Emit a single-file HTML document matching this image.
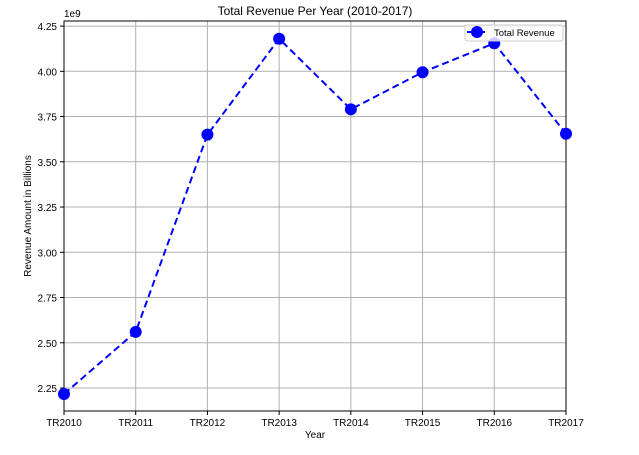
<!DOCTYPE html>
<html><head><meta charset="utf-8"><style>
body{margin:0;background:#fff;font-family:"Liberation Sans","DejaVu Sans",sans-serif;}
svg text{font-family:"Liberation Sans","DejaVu Sans",sans-serif;}
</style></head><body>
<svg id="chart" width="639" height="450"></svg>
<script>
const categories=["TR2010","TR2011","TR2012","TR2013","TR2014","TR2015","TR2016","TR2017"];
const revenue=[2.217,2.56,3.65,4.18,3.79,3.995,4.155,3.655];
const yTicks=[2.25,2.50,2.75,3.00,3.25,3.50,3.75,4.00,4.25];
const L=64,R=566,T=21,B=411,yMin=2.123,yMax=4.278;
const x=i=>L+(R-L)*i/(categories.length-1);
const y=v=>B-(v-yMin)/(yMax-yMin)*(B-T);
const svg=document.getElementById('chart');
const NS='http://www.w3.org/2000/svg';
function mk(tag,attrs,parent){const e=document.createElementNS(NS,tag);for(const k in attrs)e.setAttribute(k,attrs[k]);(parent||svg).appendChild(e);return e;}
const grid=mk('g',{});


yTicks.forEach(v=>{
  const l=mk('line',{x1:L,x2:R,y1:y(v),y2:y(v),stroke:'#b0b0b0','stroke-width':1},grid);
  
  
  mk('line',{x1:L-4,x2:L,y1:y(v),y2:y(v),stroke:'#000'});
  const t=mk('text',{x:L-7,y:y(v)+4,'text-anchor':'end','font-size':10,fill:'#000'});
  t.textContent=v.toFixed(2);
  
  
});
categories.forEach((c,i)=>{
  const l=mk('line',{x1:x(i),x2:x(i),y1:T,y2:B,stroke:'#b0b0b0','stroke-width':1},grid);
  
  
  mk('line',{x1:x(i),x2:x(i),y1:B,y2:B+4,stroke:'#000'});
  const t=mk('text',{x:x(i),y:B+15,'text-anchor':'middle','font-size':10,fill:'#000'});
  t.textContent=c;
  
  
});
const frame=mk('rect',{x:L,y:T,width:R-L,height:B-T,fill:'none',stroke:'#000','stroke-width':1});


const line=mk('polyline',{points:revenue.map((v,i)=>x(i)+','+y(v)).join(' '),fill:'none',stroke:'#0000ff','stroke-width':2,'stroke-dasharray':'7,4'});


revenue.forEach((v,i)=>{
  const c=mk('circle',{cx:x(i),cy:y(v),r:6,fill:'#0000ff'});
  
  
});
</script>
<svg style="position:absolute;left:0;top:0" width="639" height="450">
<text x="315" y="15" text-anchor="middle" font-size="12">Total Revenue Per Year (2010-2017)</text>
<text x="64" y="17" font-size="10">1e9</text>
<text x="315" y="438" text-anchor="middle" font-size="10">Year</text>
<text transform="translate(31,216) rotate(-90)" text-anchor="middle" font-size="10">Revenue Amount in Billions</text>
<g>
<rect x="465" y="25" width="98" height="16" rx="2" fill="#fff" fill-opacity="0.8" stroke="#ccc"/>
<line x1="467" y1="32" x2="487" y2="32" stroke="#0000ff" stroke-width="2" stroke-dasharray="7,4"/>
<circle cx="477" cy="32" r="6" fill="#0000ff"/>
<text x="494" y="36" font-size="9.5">Total Revenue</text>
</g>
</svg>
</body></html>
